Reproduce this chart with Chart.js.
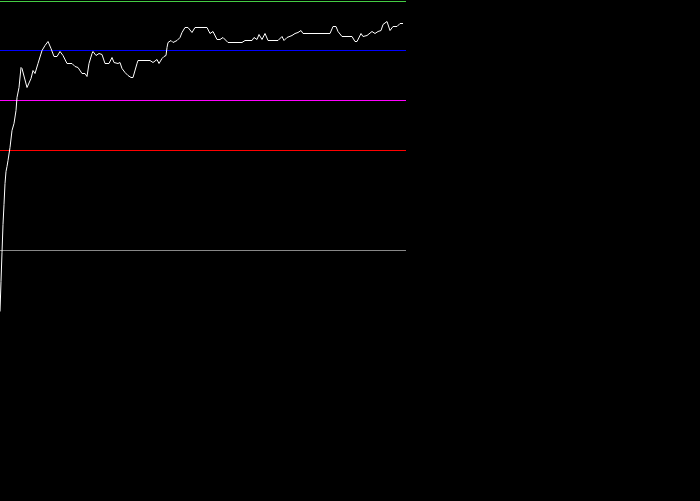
<!DOCTYPE html>
<html>
<head>
<meta charset="utf-8">
<script src="https://cdn.jsdelivr.net/npm/chart.js@4/dist/chart.umd.min.js"></script>
<style>
html,body{margin:0;padding:0;background:#000;overflow:hidden;}
#c{display:block;background:#000;}
</style>
</head>
<body>
<canvas id="c" width="700" height="501"></canvas>
<script>
// Episode steps (x) and score values (y)
const steps = [0,1,2,3,4,5,6,7,8,10,12,14,16,17,19,21,22,27,31,33,35,38,42,45,48,51,54,57,60,63,67,72,75,78,82,85,87,89,92,93,96,99,102,105,109,112,114,118,120,122,125,128,131,133,137,138,150,153,157,159,162,164,166,167,168,171,173,177,180,182,185,188,192,195,207,210,213,217,220,223,228,242,245,252,254,257,259,262,265,268,278,282,284,287,292,295,298,301,303,330,333,336,338,342,352,355,357,361,363,367,372,375,378,381,383,387,390,393,397,400,403];
const scores = [-61,-31,-2,26,46,67,79,84,90,103,120,127,140,153,163,183,182,163,172,180,177,187,200,205,209,202,194,194,199,195,187,187,184,183,177,177,174,187,197,199,195,197,196,187,187,193,188,187,188,182,178,175,173,173,187,190,190,188,191,187,192,194,195,203,208,210,208,210,213,218,223,223,218,223,223,217,219,211,211,213,208,208,210,210,213,211,216,211,217,210,210,214,210,213,215,217,218,220,217,217,224,224,219,214,214,209,209,217,214,215,219,217,219,220,226,229,220,224,224,227,227];
// Reference levels
const levelNames = ["top", "blue", "magenta", "red", "zero"];
const levelValues = [249, 200, 150, 100, 0];
const levelColors = ["#44cc44", "#0000ff", "#ff00ff", "#ff0000", "#888888"];
const levelStart = 0;
const levelEnd = 406;

const datasets = [{
  label: "score",
  data: steps.map((s, i) => ({x: s, y: scores[i]})),
  borderColor: "#ffffff",
  borderWidth: 1,
  pointRadius: 0,
  tension: 0,
  fill: false
}];
levelValues.forEach((v, i) => {
  datasets.push({
    label: levelNames[i],
    data: [{x: levelStart, y: v}, {x: levelEnd, y: v}],
    borderColor: levelColors[i],
    borderWidth: 1,
    pointRadius: 0,
    fill: false
  });
});

new Chart(document.getElementById("c"), {
  type: "line",
  data: {datasets},
  options: {
    responsive: false,
    animation: false,
    devicePixelRatio: 1,
    layout: {padding: 0},
    plugins: {legend: {display: false}, tooltip: {enabled: false}},
    scales: {
      x: {type: "linear", min: 0, max: 700, display: false},
      y: {type: "linear", min: -250.5, max: 250.5, display: false}
    }
  }
});
</script>
</body>
</html>
